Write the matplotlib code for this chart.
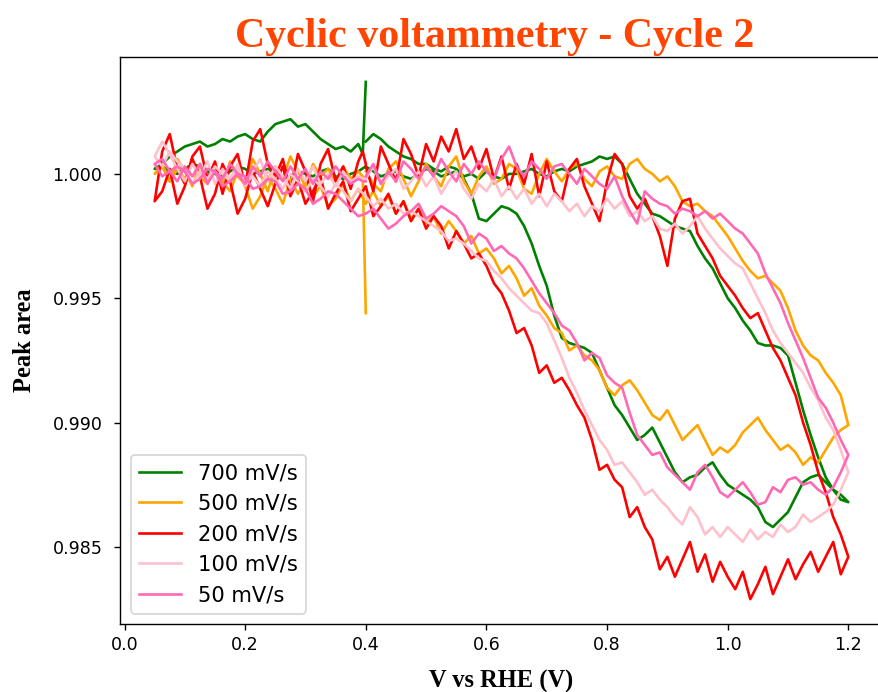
import matplotlib
matplotlib.use("Agg")
import matplotlib.pyplot as plt

# potential sweep: 0.4 -> 1.2 -> 0.05 -> 0.4 V
v_up = [0.4, 0.4125, 0.425, 0.4375, 0.45, 0.4625, 0.475, 0.4875,
        0.5, 0.5125, 0.525, 0.5375, 0.55, 0.5625, 0.575, 0.5875,
        0.6, 0.6125, 0.625, 0.6375, 0.65, 0.6625, 0.675, 0.6875,
        0.7, 0.7125, 0.725, 0.7375, 0.75, 0.7625, 0.775, 0.7875,
        0.8, 0.8125, 0.825, 0.8375, 0.85, 0.8625, 0.875, 0.8875,
        0.9, 0.9125, 0.925, 0.9375, 0.95, 0.9625, 0.975, 0.9875,
        1.0, 1.0125, 1.025, 1.0375, 1.05, 1.0625, 1.075, 1.0875,
        1.1, 1.1125, 1.125, 1.1375, 1.15, 1.1625, 1.175, 1.1875, 1.2]
v_down = [1.1875, 1.175, 1.1625, 1.15, 1.1375, 1.125, 1.1125, 1.1,
          1.0875, 1.075, 1.0625, 1.05, 1.0375, 1.025, 1.0125, 1.0,
          0.9875, 0.975, 0.9625, 0.95, 0.9375, 0.925, 0.9125, 0.9,
          0.8875, 0.875, 0.8625, 0.85, 0.8375, 0.825, 0.8125, 0.8,
          0.7875, 0.775, 0.7625, 0.75, 0.7375, 0.725, 0.7125, 0.7,
          0.6875, 0.675, 0.6625, 0.65, 0.6375, 0.625, 0.6125, 0.6,
          0.5875, 0.575, 0.5625, 0.55, 0.5375, 0.525, 0.5125, 0.5,
          0.4875, 0.475, 0.4625, 0.45, 0.4375, 0.425, 0.4125, 0.4,
          0.3875, 0.375, 0.3625, 0.35, 0.3375, 0.325, 0.3125, 0.3,
          0.2875, 0.275, 0.2625, 0.25, 0.2375, 0.225, 0.2125, 0.2,
          0.1875, 0.175, 0.1625, 0.15, 0.1375, 0.125, 0.1125, 0.1,
          0.0875, 0.075, 0.0625, 0.05]
v_back = [0.0625, 0.075, 0.0875, 0.1, 0.1125, 0.125, 0.1375, 0.15,
          0.1625, 0.175, 0.1875, 0.2, 0.2125, 0.225, 0.2375, 0.25,
          0.2625, 0.275, 0.2875, 0.3, 0.3125, 0.325, 0.3375, 0.35,
          0.3625, 0.375, 0.3875, 0.395, 0.4]

labels = ['700 mV/s', '500 mV/s', '200 mV/s', '100 mV/s', '50 mV/s']
colors = ['green', 'orange', 'red', 'pink', 'hotpink']

# peak area, 700 mV/s
g_up = [1.0013, 1.0016, 1.0014, 1.0011, 1.0009, 1.0007, 1.0006, 1.0004,
        1.0004, 1.0002, 1.0001, 1.0003, 1.0002, 0.9999, 1.0000, 0.9998,
        1.0001, 0.9999, 0.9998, 1.0000, 1.0000, 1.0001, 1.0002, 1.0000,
        0.9999, 1.0001, 1.0002, 1.0001, 1.0003, 1.0004, 1.0005, 1.0007,
        1.0006, 1.0007, 1.0004, 0.9998, 0.9992, 0.9988, 0.9984, 0.9983,
        0.9981, 0.9979, 0.9978, 0.9977, 0.9971, 0.9966, 0.9962, 0.9956,
        0.9950, 0.9946, 0.9941, 0.9937, 0.9932, 0.9931, 0.9931, 0.9930,
        0.9927, 0.9916, 0.9905, 0.9895, 0.9886, 0.9878, 0.9873, 0.9869, 0.9868]
g_down = [0.9871, 0.9873, 0.9876, 0.9879, 0.9878, 0.9876, 0.9870, 0.9864,
          0.9861, 0.9858, 0.9860, 0.9866, 0.9869, 0.9871, 0.9873, 0.9875,
          0.9879, 0.9884, 0.9882, 0.9879, 0.9878, 0.9876, 0.9880, 0.9886,
          0.9892, 0.9898, 0.9895, 0.9893, 0.9898, 0.9903, 0.9907, 0.9914,
          0.9921, 0.9928, 0.9930, 0.9931, 0.9932, 0.9934, 0.9943, 0.9955,
          0.9963, 0.9972, 0.9979, 0.9984, 0.9986, 0.9987, 0.9984, 0.9981,
          0.9982, 0.9992, 0.9998, 1.0001, 1.0000, 0.9999, 1.0001, 1.0002,
          1.0000, 0.9998, 0.9999, 1.0001, 1.0000, 0.9999, 1.0001, 1.0003,
          1.0001, 1.0000, 0.9998, 0.9999, 1.0002, 1.0001, 0.9999, 1.0000,
          1.0001, 0.9999, 0.9998, 1.0000, 1.0002, 1.0001, 1.0000, 1.0002,
          1.0003, 1.0001, 0.9999, 1.0000, 1.0001, 1.0003, 1.0004, 1.0002,
          1.0000, 1.0001, 1.0003, 1.0002]
g_back = [1.0004, 1.0007, 1.0009, 1.0011, 1.0012, 1.0013, 1.0011, 1.0012,
          1.0014, 1.0013, 1.0015, 1.0016, 1.0014, 1.0013, 1.0017, 1.0020,
          1.0021, 1.0022, 1.0019, 1.0020, 1.0017, 1.0014, 1.0012, 1.0010,
          1.0011, 1.0009, 1.0012, 1.0008, 1.0037]

# 500 mV/s
o_up = [1.0001, 0.9996, 0.9993, 1.0002, 1.0005, 0.9998, 0.9991, 0.9997,
        1.0004, 0.9999, 0.9995, 1.0003, 1.0007, 0.9997, 0.9992, 0.9999,
        1.0003, 0.9996, 0.9998, 1.0004, 1.0002, 0.9994, 0.9992, 1.0000,
        1.0006, 1.0001, 0.9997, 1.0002, 1.0004, 0.9998, 0.9995, 1.0001,
        1.0003, 0.9999, 0.9998, 1.0004, 1.0006, 1.0002, 1.0000, 0.9997,
        0.9999, 0.9995, 0.9989, 0.9987, 0.9988, 0.9985, 0.9983, 0.9979,
        0.9975, 0.9970, 0.9965, 0.9961, 0.9958, 0.9959, 0.9956, 0.9953,
        0.9946, 0.9937, 0.9931, 0.9927, 0.9925, 0.9920, 0.9916, 0.9911, 0.9899]
o_down = [0.9897, 0.9894, 0.9889, 0.9884, 0.9886, 0.9883, 0.9888, 0.9891,
          0.9889, 0.9893, 0.9897, 0.9902, 0.9899, 0.9896, 0.9891, 0.9888,
          0.9890, 0.9887, 0.9893, 0.9899, 0.9896, 0.9893, 0.9899, 0.9905,
          0.9901, 0.9903, 0.9908, 0.9913, 0.9917, 0.9915, 0.9911, 0.9914,
          0.9921, 0.9925, 0.9927, 0.9931, 0.9929, 0.9936, 0.9938, 0.9943,
          0.9947, 0.9954, 0.9951, 0.9958, 0.9963, 0.9960, 0.9966, 0.9970,
          0.9968, 0.9975, 0.9972, 0.9977, 0.9981, 0.9976, 0.9983, 0.9980,
          0.9986, 0.9982, 0.9989, 0.9984, 0.9991, 0.9987, 0.9993, 0.9988,
          0.9994, 0.9989, 0.9996, 0.9990, 0.9987, 0.9995, 0.9991, 0.9997,
          0.9992, 0.9998, 0.9988, 0.9994, 0.9999, 0.9991, 0.9986, 0.9995,
          1.0001, 0.9993, 0.9997, 1.0003, 0.9996, 0.9999, 1.0005, 0.9998,
          1.0002, 0.9997, 1.0004, 1.0000]
o_back = [1.0003, 0.9997, 1.0006, 1.0001, 0.9995, 1.0004, 0.9998, 1.0002,
          0.9994, 1.0005, 0.9999, 0.9996, 1.0006, 1.0000, 0.9993, 1.0003,
          0.9998, 1.0007, 1.0001, 0.9995, 1.0004, 0.9999, 1.0002, 0.9997,
          1.0003, 0.9998, 1.0001, 0.9999, 0.9944]

# 200 mV/s
r_up = [1.0003, 0.9993, 1.0011, 1.0004, 0.9997, 1.0014, 1.0008, 0.9999,
        1.0012, 1.0005, 1.0015, 1.0009, 1.0018, 1.0006, 1.0011, 1.0002,
        1.0010, 0.9998, 1.0007, 0.9994, 1.0004, 0.9996, 1.0008, 0.9991,
        1.0005, 0.9993, 0.9989, 1.0002, 1.0006, 0.9995, 0.9988, 0.9981,
        0.9997, 1.0008, 1.0004, 0.9991, 0.9986, 0.9990, 0.9983, 0.9975,
        0.9963, 0.9982, 0.9989, 0.9990, 0.9976, 0.9971, 0.9966, 0.9959,
        0.9955, 0.9951, 0.9946, 0.9942, 0.9944, 0.9937, 0.9930, 0.9925,
        0.9918, 0.9911, 0.9900, 0.9891, 0.9880, 0.9872, 0.9862, 0.9855, 0.9846]
r_down = [0.9839, 0.9852, 0.9846, 0.9840, 0.9848, 0.9843, 0.9837, 0.9845,
          0.9838, 0.9831, 0.9842, 0.9835, 0.9829, 0.9840, 0.9833, 0.9838,
          0.9844, 0.9836, 0.9847, 0.9840, 0.9852, 0.9845, 0.9838, 0.9846,
          0.9841, 0.9853, 0.9858, 0.9866, 0.9862, 0.9874, 0.9877, 0.9883,
          0.9881, 0.9893, 0.9902, 0.9907, 0.9913, 0.9918, 0.9916, 0.9923,
          0.9920, 0.9931, 0.9938, 0.9936, 0.9945, 0.9952, 0.9956, 0.9963,
          0.9968, 0.9966, 0.9972, 0.9977, 0.9970, 0.9979, 0.9983, 0.9978,
          0.9986, 0.9981, 0.9989, 0.9984, 0.9992, 0.9987, 0.9983, 0.9995,
          0.9990, 0.9985, 0.9997, 0.9992, 0.9986, 0.9999, 0.9993, 0.9988,
          0.9998, 0.9991, 1.0003, 0.9996, 0.9987, 0.9994, 1.0001, 0.9990,
          0.9984, 0.9997, 1.0004, 0.9992, 0.9986, 0.9999, 1.0006, 0.9995,
          0.9988, 1.0002, 0.9993, 0.9989]
r_back = [1.0009, 1.0016, 1.0002, 0.9996, 1.0007, 1.0011, 0.9998, 1.0005,
          0.9992, 1.0003, 1.0008, 0.9995, 1.0013, 1.0018, 1.0004, 0.9999,
          1.0006, 0.9993, 1.0008, 1.0001, 0.9989, 1.0004, 1.0010, 0.9997,
          1.0003, 0.9994, 1.0005, 1.0009, 1.0004]

# 100 mV/s
p_up = [0.9998, 1.0003, 0.9996, 0.9999, 1.0002, 0.9994, 0.9997, 1.0001,
        0.9995, 0.9999, 0.9992, 0.9997, 1.0001, 0.9994, 0.9990, 0.9996,
        0.9993, 0.9998, 0.9991, 0.9995, 0.9990, 0.9994, 0.9988, 0.9992,
        0.9987, 0.9992, 0.9989, 0.9985, 0.9988, 0.9983, 0.9987, 0.9985,
        0.9990, 0.9986, 0.9989, 0.9983, 0.9985, 0.9981, 0.9983, 0.9978,
        0.9977, 0.9980, 0.9976, 0.9979, 0.9983, 0.9978, 0.9974, 0.9970,
        0.9967, 0.9964, 0.9962, 0.9956, 0.9950, 0.9944, 0.9937, 0.9932,
        0.9928, 0.9924, 0.9920, 0.9914, 0.9909, 0.9902, 0.9897, 0.9889, 0.9880]
p_down = [0.9873, 0.9867, 0.9864, 0.9862, 0.9860, 0.9863, 0.9858, 0.9856,
          0.9859, 0.9854, 0.9856, 0.9853, 0.9857, 0.9852, 0.9855, 0.9858,
          0.9854, 0.9858, 0.9855, 0.9862, 0.9866, 0.9859, 0.9862, 0.9866,
          0.9869, 0.9873, 0.9871, 0.9876, 0.9880, 0.9884, 0.9883, 0.9889,
          0.9893, 0.9899, 0.9905, 0.9912, 0.9918, 0.9926, 0.9933, 0.9940,
          0.9944, 0.9945, 0.9948, 0.9951, 0.9954, 0.9958, 0.9961, 0.9965,
          0.9966, 0.9969, 0.9972, 0.9974, 0.9973, 0.9977, 0.9979, 0.9981,
          0.9983, 0.9985, 0.9984, 0.9988, 0.9986, 0.9990, 0.9987, 0.9991,
          0.9994, 0.9989, 0.9993, 0.9996, 0.9991, 0.9995, 0.9998, 0.9993,
          0.9997, 1.0000, 0.9994, 0.9998, 1.0001, 0.9995, 0.9999, 0.9996,
          1.0002, 0.9997, 1.0000, 1.0003, 0.9998, 1.0001, 0.9996, 1.0002,
          1.0005, 1.0009, 1.0003, 1.0007]
p_back = [1.0013, 1.0008, 1.0002, 0.9997, 1.0004, 0.9999, 1.0005, 0.9996,
          1.0002, 0.9998, 1.0004, 0.9995, 1.0001, 1.0006, 0.9997, 1.0003,
          0.9999, 0.9994, 1.0002, 0.9997, 1.0003, 0.9996, 1.0000, 0.9995,
          1.0001, 0.9997, 0.9999, 0.9998, 0.9999]

# 50 mV/s
h_up = [0.9999, 1.0004, 0.9996, 1.0001, 0.9997, 1.0005, 1.0002, 0.9998,
        1.0003, 0.9999, 1.0006, 1.0001, 0.9997, 1.0004, 1.0000, 1.0005,
        1.0001, 0.9998, 1.0006, 1.0011, 1.0003, 0.9999, 1.0005, 1.0002,
        0.9998, 1.0003, 1.0004, 1.0000, 0.9996, 1.0002, 0.9999, 0.9996,
        0.9994, 0.9999, 0.9991, 0.9985, 0.9980, 0.9993, 0.9990, 0.9988,
        0.9987, 0.9984, 0.9986, 0.9985, 0.9983, 0.9985, 0.9982, 0.9984,
        0.9981, 0.9978, 0.9976, 0.9972, 0.9968, 0.9960, 0.9954, 0.9948,
        0.9940, 0.9933, 0.9926, 0.9918, 0.9910, 0.9906, 0.9900, 0.9893, 0.9887]
h_down = [0.9880, 0.9874, 0.9871, 0.9873, 0.9876, 0.9875, 0.9878, 0.9877,
          0.9872, 0.9874, 0.9868, 0.9867, 0.9872, 0.9876, 0.9873, 0.9870,
          0.9872, 0.9878, 0.9883, 0.9880, 0.9873, 0.9876, 0.9879, 0.9882,
          0.9888, 0.9887, 0.9891, 0.9895, 0.9904, 0.9914, 0.9916, 0.9919,
          0.9926, 0.9928, 0.9925, 0.9932, 0.9937, 0.9939, 0.9944, 0.9948,
          0.9952, 0.9957, 0.9962, 0.9966, 0.9968, 0.9971, 0.9969, 0.9974,
          0.9976, 0.9972, 0.9979, 0.9983, 0.9985, 0.9987, 0.9984, 0.9982,
          0.9988, 0.9985, 0.9983, 0.9980, 0.9978, 0.9982, 0.9986, 0.9984,
          0.9983, 0.9986, 0.9989, 0.9992, 0.9993, 0.9990, 0.9988, 0.9994,
          0.9996, 0.9993, 0.9992, 0.9997, 0.9998, 0.9995, 0.9994, 0.9999,
          1.0000, 0.9997, 0.9995, 1.0001, 1.0002, 0.9998, 0.9996, 1.0001,
          1.0003, 1.0001, 0.9999, 1.0004]
h_back = [1.0006, 1.0001, 0.9997, 1.0003, 0.9999, 1.0004, 0.9996, 1.0001,
          0.9998, 1.0004, 1.0000, 0.9996, 1.0003, 0.9999, 1.0005, 1.0001,
          0.9997, 1.0003, 0.9998, 1.0002, 0.9996, 1.0001, 0.9998, 1.0003,
          0.9999, 0.9996, 0.9998, 0.9997, 0.9997]

series = [(g_up, g_down, g_back), (o_up, o_down, o_back), (r_up, r_down, r_back),
          (p_up, p_down, p_back), (h_up, h_down, h_back)]

fig = plt.figure(figsize=(878 / 126, 692 / 126), dpi=126)
ax = fig.add_axes([120 / 878, 68 / 692, 763 / 878, 567 / 692])

v_all = v_up + v_down + v_back
for (up, down, back), lab, col in zip(series, labels, colors):
    ax.plot(v_all, up + down + back, color=col, lw=1.5, label=lab)

ax.set_xlim(-0.0075, 1.2575)
ax.set_ylim(0.9819, 1.0047)
ax.set_xticks([0.0, 0.2, 0.4, 0.6, 0.8, 1.0, 1.2])
ax.set_yticks([0.985, 0.990, 0.995, 1.000])
ax.yaxis.set_major_formatter(matplotlib.ticker.FormatStrFormatter('%.3f'))
ax.tick_params(axis='y', pad=6.5)
ax.spines['right'].set_visible(False)

serif = {'family': 'Liberation Serif', 'weight': 'bold'}
ax.set_title('Cyclic voltammetry - Cycle 2', fontdict=serif, fontsize=24,
             color='orangered', x=0.491)
ax.set_xlabel('V vs RHE (V)', fontdict=serif, fontsize=14, labelpad=9)
ax.set_ylabel('Peak area', fontdict=serif, fontsize=14, labelpad=9.5)

ax.legend(loc='lower left', fontsize=12)

fig.savefig('out.png', dpi=126)
